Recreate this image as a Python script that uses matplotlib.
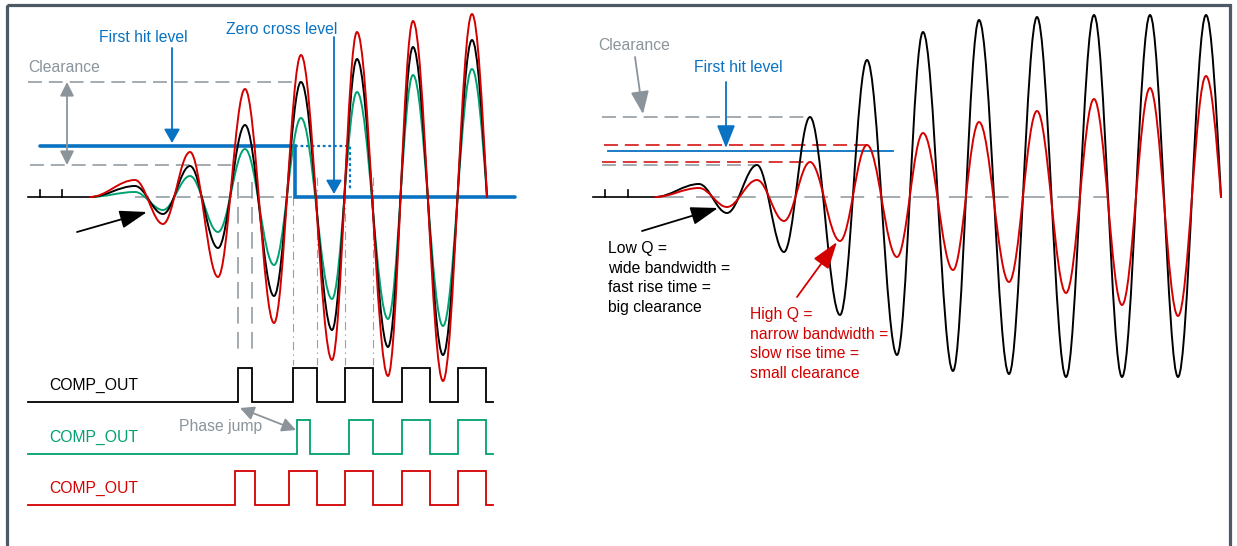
import matplotlib
matplotlib.use("Agg")
import matplotlib.pyplot as plt
from matplotlib.path import Path
from matplotlib.patches import PathPatch, Rectangle

# ---------------- data (time, amplitude above the zero level) ----------------
# Left panel: burst response extrema (start, peaks/troughs) for three tunings
left_t = [90, 135, 163, 190, 218, 245, 274, 301, 332, 357, 388, 413, 443, 472]
left_end = 487
left_black = [0, 11, -17, 31, -51, 72, -99, 115, -133, 138, -150, 150, -158, 157]
left_red = [0, 17, -27, 45, -80, 108, -126, 142, -163, 165, -179, 176, -184, 183]
left_green = [0, 5, -13, 21, -35, 48, -68, 79, -102, 105, -122, 122, -129, 128]

# Right panel: low-Q (black) and high-Q (red) responses
right_t = [655, 699, 727, 757, 784, 810, 840, 867, 897, 923, 953, 979, 1009,
           1037, 1066, 1094, 1122, 1150, 1178, 1206]
right_end = 1221
right_lowq = [0, 13, -16, 32, -55, 80, -118, 137, -158, 165, -174, 177, -177,
              180, -180, 182, -180, 182, -180, 182]
right_highq = [0, 9, -10, 17, -24, 35, -44, 52, -60, 64, -73, 75, -85, 86,
               -96, 98, -108, 109, -119, 121]

# Comparator output edges (rise, fall, rise, fall, ...)
comp_black = [238, 252, 293, 317, 345, 373, 402, 430, 458, 486]
comp_green = [297, 310, 349, 373, 402, 430, 458, 486]
comp_red = [235, 255, 289, 317, 345, 373, 402, 430, 458, 486]
comp_labels = ["COMP_OUT", "COMP_OUT", "COMP_OUT"]

# Threshold levels
left_first_hit = 51
left_clear_hi = 115
left_clear_lo = 32
right_first_hit = 46
right_clear_lowq = (80, 32)
right_clear_highq = (52, 35)

lowq_text = ["Low Q =", "wide bandwidth =", "fast rise time =", "big clearance"]
highq_text = ["High Q =", "narrow bandwidth =", "slow rise time =", "small clearance"]

# ---------------- style ----------------
BLACK = "#000000"
RED = "#d40000"
GREEN = "#00a070"
BLUE = "#0a72c2"
GRAY = "#8b949b"
FRAME = "#4d5965"
ZERO = 197  # vertical position of the zero level
FONT = ["Liberation Sans", "DejaVu Sans"]
FS = 11.3

plt.rcParams["lines.scale_dashes"] = False
plt.rcParams["font.family"] = FONT

fig = plt.figure(figsize=(12.37, 5.46), dpi=100)
ax = fig.add_axes([0, 0, 1, 1])
ax.set_xlim(0, 1237)
ax.set_ylim(546, 0)
ax.axis("off")

K = 0.3634  # cubic control factor for a half-cosine between extrema


def wave(ts, amps, end_t, color, lw=1.4, z=5):
    verts = [(ts[0], ZERO - amps[0])]
    codes = [Path.MOVETO]
    for i in range(len(ts) - 1):
        t0, t1 = ts[i], ts[i + 1]
        v0, v1 = ZERO - amps[i], ZERO - amps[i + 1]
        dt = t1 - t0
        verts += [(t0 + K * dt, v0), (t1 - K * dt, v1), (t1, v1)]
        codes += [Path.CURVE4] * 3
    # last quarter wave down to the zero level
    t0, v0 = ts[-1], ZERO - amps[-1]
    dt = end_t - t0
    verts += [(t0 + 0.3617 * dt, v0), (t0 + 0.6737 * dt, ZERO - 0.5126 * amps[-1]),
              (end_t, ZERO)]
    codes += [Path.CURVE4] * 3
    ax.add_patch(PathPatch(Path(verts, codes), fill=False, ec=color, lw=lw,
                           zorder=z, capstyle="round", joinstyle="round"))


def comp(edges, low, color, x0=28, x1=493, h=34):
    xs, ys = [x0], [low]
    state = low
    for e in edges:
        xs.append(e); ys.append(state)
        state = low - h if state == low else low
        xs.append(e); ys.append(state)
    xs.append(x1); ys.append(state)
    ax.plot(xs, ys, color=color, lw=1.3, zorder=4, solid_joinstyle="miter")


def hdash(y, x0, x1, color=GRAY, dashes=(10, 5), lw=1.1, z=2):
    ax.plot([x0, x1], [y, y], color=color, lw=lw, dashes=dashes, zorder=z)


def arrow(x0, y0, x1, y1, color, ms=14, hl=0.8, hw=0.3, lw=1.3, both=False):
    style = ("<|-|>" if both else "-|>") + f",head_length={hl},head_width={hw}"
    ax.annotate("", xy=(x1, y1), xytext=(x0, y0),
                arrowprops=dict(arrowstyle=style, color=color, lw=lw,
                                mutation_scale=ms, shrinkA=0, shrinkB=0),
                zorder=8)


def txt(x, y, s, color, ha="left"):
    ax.text(x, y, s, color=color, fontsize=FS, ha=ha, va="center", zorder=9)


# ---------------- frame ----------------
ax.add_patch(Rectangle((7, 5), 1223, 560, fill=False, ec=FRAME, lw=2.3,
                       zorder=10, clip_on=False))

# ---------------- left panel ----------------
# baseline with ticks
ax.plot([28, 90], [ZERO, ZERO], color=BLACK, lw=1.2, zorder=3)
for tx in (40, 62):
    ax.plot([tx, tx], [ZERO - 7, ZERO], color=BLACK, lw=1.2, zorder=3)
hdash(ZERO, 135, 292)
hdash(ZERO - left_clear_hi, 28, 301)
hdash(ZERO - left_clear_lo, 30, 237)

# vertical guide lines
for vx in (238, 252):
    ax.plot([vx, vx], [182, 352], color=GRAY, lw=1.1, dashes=(12, 6), zorder=2)
for vx, vy in ((293, 197), (317, 177), (345, 177), (373, 177)):
    ax.plot([vx, vx], [vy, 365], color="#9aa1a7", lw=0.8,
            dashes=(6, 3, 1, 3), zorder=2)

# first-hit / zero-cross threshold
ax.plot([40, 295, 295, 515], [ZERO - left_first_hit] * 2 + [ZERO] * 2,
        color=BLUE, lw=2.6, zorder=3, solid_capstyle="round",
        solid_joinstyle="miter")
ax.plot([295, 350, 350], [ZERO - left_first_hit, ZERO - left_first_hit, 190],
        color=BLUE, lw=1.6, dashes=(2, 2), zorder=3)

wave(left_t, left_green, left_end, GREEN, z=5)
wave(left_t, left_black, left_end, BLACK, z=6)
wave(left_t, left_red, left_end, RED, z=7)

txt(143, 38, "First hit level", BLUE, ha="center")
arrow(172, 48, 172, 143, BLUE, ms=12, hl=0.7, hw=0.4)
txt(282, 29, "Zero cross level", BLUE, ha="center")
arrow(334, 37, 334, 194, BLUE, ms=12, hl=0.7, hw=0.4)
txt(28, 67, "Clearance", GRAY)
arrow(67, 82, 67, 165, GRAY, ms=12, hl=0.7, hw=0.35, both=True)
arrow(77, 232, 147, 212, BLACK, ms=14, hl=1.2, hw=0.4)

comp(comp_black, 402, BLACK)
comp(comp_green, 454, GREEN)
comp(comp_red, 505, RED)
txt(49, 385, comp_labels[0], BLACK)
txt(49, 437, comp_labels[1], GREEN)
txt(49, 488, comp_labels[2], RED)
txt(179, 426, "Phase jump", GRAY)
arrow(240, 408, 296, 430, GRAY, ms=12, hl=0.7, hw=0.35, both=True)

# ---------------- right panel ----------------
ax.plot([593, 655], [ZERO, ZERO], color=BLACK, lw=1.2, zorder=3)
for tx in (605, 628):
    ax.plot([tx, tx], [ZERO - 7, ZERO], color=BLACK, lw=1.2, zorder=3)
hdash(ZERO, 660, 1108, dashes=(17, 9))
hdash(ZERO - right_clear_lowq[0], 602, 810)
hdash(ZERO - right_clear_lowq[1], 602, 757)
hdash(ZERO - right_clear_highq[0], 604, 867, color=RED)
hdash(ZERO - right_clear_highq[1], 602, 810, color=RED)
ax.plot([608, 893], [ZERO - right_first_hit] * 2, color=BLUE, lw=1.3, zorder=3)

wave(right_t, right_lowq, right_end, BLACK, z=5)
wave(right_t, right_highq, right_end, RED, z=6)

txt(598, 45, "Clearance", GRAY)
arrow(635, 57, 643, 114, GRAY, ms=14, hl=1.0, hw=0.4)
txt(738, 68, "First hit level", BLUE, ha="center")
arrow(726, 82, 726, 148, BLUE, ms=14, hl=1.0, hw=0.4)
arrow(642, 231, 718, 208, BLACK, ms=14, hl=1.2, hw=0.4)
arrow(797, 297, 837, 242, RED, ms=14, hl=1.2, hw=0.4)

for i, s in enumerate(lowq_text):
    txt(608, 249 + 19.4 * i, s, BLACK)
for i, s in enumerate(highq_text):
    txt(750, 315 + 19.4 * i, s, RED)

fig.savefig("out.png", dpi=100)
